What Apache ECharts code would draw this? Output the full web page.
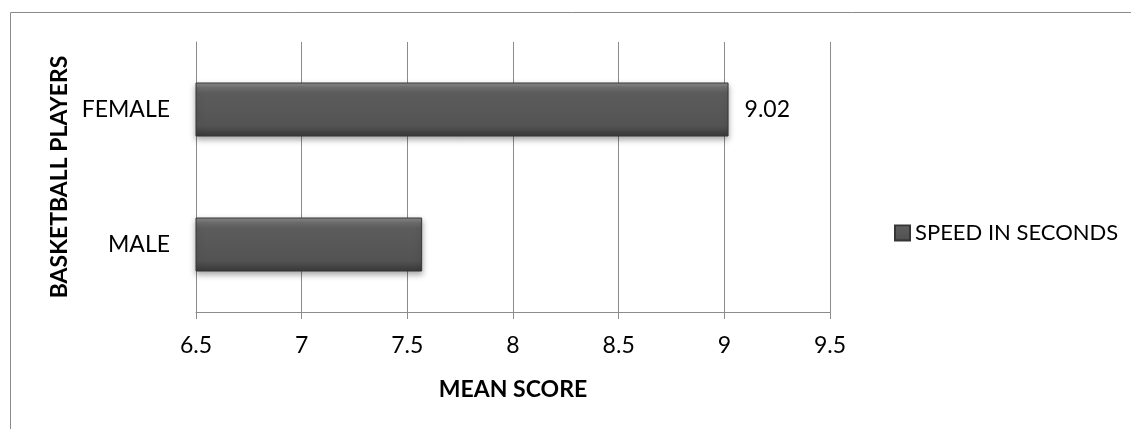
<!DOCTYPE html>
<html>
<head>
<meta charset="utf-8">
<script src="https://cdn.jsdelivr.net/npm/echarts@6/dist/echarts.min.js"></script>
<style>html,body{margin:0;padding:0;background:#fff}#c{width:1131px;height:429px}</style>
</head>
<body>
<div id="c"></div>
<script>
var categories = ['MALE', 'FEMALE'];
var speedValues = [7.57, 9.02];
var showValueLabel = [false, true];
var seriesName = 'SPEED IN SECONDS';
var xTicks = { min: 6.5, max: 9.5, interval: 0.5 };
var xTitle = 'MEAN SCORE';
var yTitle = 'BASKETBALL PLAYERS';

var FONT = 'Lato';
var barFill = new echarts.graphic.LinearGradient(0, 0, 0, 1, [
  { offset: 0, color: '#8e8e8e' },
  { offset: 0.1, color: '#6e6e6e' },
  { offset: 0.2, color: '#5c5c5c' },
  { offset: 0.8, color: '#535353' },
  { offset: 1, color: '#383838' }
]);

var chart = echarts.init(document.getElementById('c'), null, { renderer: 'canvas' });
chart.setOption({
  animation: false,
  backgroundColor: '#fff',
  textStyle: { fontFamily: FONT },
  graphic: [{
    type: 'rect', silent: true,
    shape: { x: 10.5, y: 12.5, width: 1200, height: 600 },
    style: { fill: 'none', stroke: '#8a8a8a', lineWidth: 1 }
  }],
  grid: { left: 196, right: 301, top: 42, bottom: 117, containLabel: false },
  legend: {
    show: true,
    left: 889, top: 217,
    itemWidth: 15, itemHeight: 15, itemGap: 7,
    icon: 'rect',
    textStyle: { fontFamily: FONT, fontSize: 22, color: '#000', padding: [0, 0, 0, 0] },
    data: [seriesName]
  },
  xAxis: {
    type: 'value',
    min: xTicks.min, max: xTicks.max, interval: xTicks.interval,
    name: xTitle, nameLocation: 'middle', nameGap: 66,
    nameTextStyle: { fontFamily: FONT, fontSize: 23, fontWeight: 'bold', color: '#000' },
    axisLine: { show: true, lineStyle: { color: '#8c8c8c', width: 1 } },
    axisTick: { show: true, length: 7, lineStyle: { color: '#8c8c8c' } },
    axisLabel: { fontFamily: FONT, fontSize: 23, color: '#000', margin: 22 },
    splitLine: { show: true, lineStyle: { color: '#8c8c8c', width: 1 } }
  },
  yAxis: {
    type: 'category',
    data: categories,
    name: yTitle, nameLocation: 'middle', nameGap: 125, nameRotate: 90,
    nameTextStyle: { fontFamily: FONT, fontSize: 23, fontWeight: 'bold', color: '#000' },
    axisLine: { show: true, lineStyle: { color: '#8c8c8c', width: 1 } },
    axisTick: { show: false },
    axisLabel: { fontFamily: FONT, fontSize: 23, color: '#000', margin: 26 },
    splitLine: { show: false }
  },
  series: [{
    name: seriesName,
    type: 'bar',
    barWidth: 54,
    itemStyle: {
      color: barFill,
      borderColor: '#363636', borderWidth: 1,
      shadowColor: 'rgba(0,0,0,0.35)', shadowBlur: 6, shadowOffsetY: 3
    },
    label: {
      show: false, position: 'right', distance: 16,
      fontFamily: FONT, fontSize: 23, color: '#000',
      formatter: function (p) { return p.value.toFixed(2); }
    },
    data: speedValues.map(function (v, i) {
      return { value: v, label: { show: showValueLabel[i] } };
    })
  }]
});
</script>
</body>
</html>
